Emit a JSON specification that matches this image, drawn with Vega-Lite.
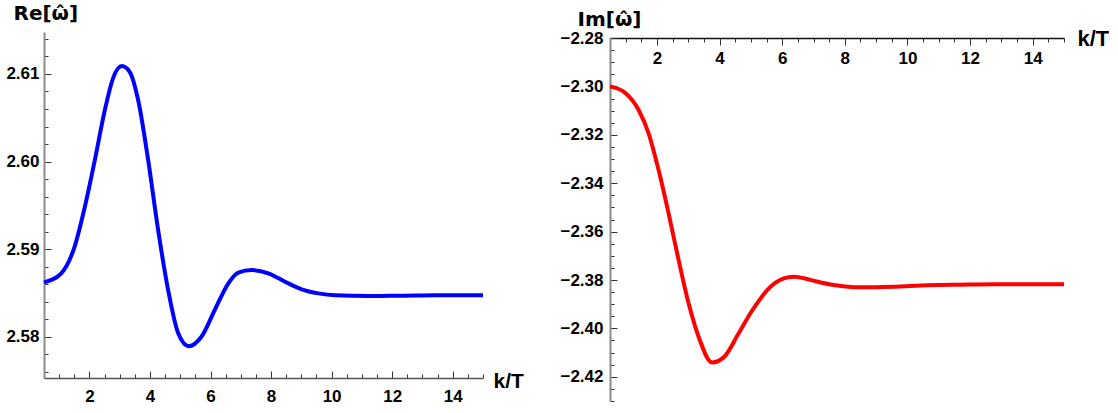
{
  "$schema": "https://vega.github.io/schema/vega-lite/v6.json",
  "autosize": {"type": "pad"},
  "padding": {"left": 5, "top": 3, "right": 0, "bottom": 0},
  "background": "white",
  "config": {
    "view": {"stroke": null},
    "axis": {
      "labelFont": "Liberation Sans",
      "labelFontWeight": "bold",
      "labelFontSize": 17,
      "labelColor": "black",
      "titleFont": "Liberation Sans",
      "titleFontWeight": "bold",
      "titleColor": "black",
      "grid": false,
      "tickColor": "#333333",
      "tickWidth": 1,
      "labelFlush": false,
      "labelOverlap": false
    }
  },
  "datasets": {
    "re": [
      {"k": 0.5, "v": 2.58621},
      {"k": 1.07, "v": 2.58724},
      {"k": 1.51, "v": 2.59027},
      {"k": 1.85, "v": 2.59484},
      {"k": 2.18, "v": 2.60017},
      {"k": 2.51, "v": 2.60588},
      {"k": 2.78, "v": 2.60950},
      {"k": 3.07, "v": 2.61090},
      {"k": 3.33, "v": 2.61025},
      {"k": 3.61, "v": 2.60702},
      {"k": 3.94, "v": 2.60017},
      {"k": 4.27, "v": 2.59218},
      {"k": 4.60, "v": 2.58533},
      {"k": 4.93, "v": 2.58042},
      {"k": 5.28, "v": 2.57892},
      {"k": 5.70, "v": 2.58000},
      {"k": 6.14, "v": 2.58305},
      {"k": 6.59, "v": 2.58610},
      {"k": 6.92, "v": 2.58731},
      {"k": 7.36, "v": 2.58761},
      {"k": 7.91, "v": 2.58724},
      {"k": 8.46, "v": 2.58628},
      {"k": 9.01, "v": 2.58541},
      {"k": 9.56, "v": 2.58495},
      {"k": 10.11, "v": 2.58473},
      {"k": 11.21, "v": 2.58465},
      {"k": 12.31, "v": 2.58468},
      {"k": 13.41, "v": 2.58473},
      {"k": 15.0, "v": 2.58474}
    ],
    "im": [
      {"k": 0.5, "v": -2.30000},
      {"k": 0.99, "v": -2.30273},
      {"k": 1.41, "v": -2.30964},
      {"k": 1.73, "v": -2.31928},
      {"k": 2.05, "v": -2.33447},
      {"k": 2.37, "v": -2.35239},
      {"k": 2.69, "v": -2.37171},
      {"k": 3.01, "v": -2.38963},
      {"k": 3.33, "v": -2.40345},
      {"k": 3.76, "v": -2.41405},
      {"k": 4.13, "v": -2.41197},
      {"k": 4.61, "v": -2.40204},
      {"k": 5.00, "v": -2.39342},
      {"k": 5.30, "v": -2.38780},
      {"k": 5.55, "v": -2.38380},
      {"k": 5.80, "v": -2.38100},
      {"k": 6.05, "v": -2.37930},
      {"k": 6.37, "v": -2.37862},
      {"k": 6.70, "v": -2.37930},
      {"k": 7.10, "v": -2.38060},
      {"k": 7.65, "v": -2.38205},
      {"k": 8.50, "v": -2.38301},
      {"k": 9.56, "v": -2.38276},
      {"k": 10.63, "v": -2.38218},
      {"k": 11.70, "v": -2.38193},
      {"k": 12.76, "v": -2.38176},
      {"k": 13.83, "v": -2.38176},
      {"k": 15.0, "v": -2.38176}
    ]
  },
  "spacing": 127,
  "bounds": "flush",
  "hconcat": [
    {
      "width": 439,
      "height": 346,
      "data": {"name": "re"},
      "mark": {"type": "line", "color": "#0000ff", "strokeWidth": 4, "interpolate": "monotone"},
      "encoding": {
        "x": {
          "field": "k",
          "type": "quantitative",
          "scale": {"domain": [0.5, 15], "nice": false, "zero": false},
          "axis": {
            "orient": "bottom",
            "values": [0.5, 1, 1.5, 2, 2.5, 3, 3.5, 4, 4.5, 5, 5.5, 6, 6.5, 7, 7.5, 8, 8.5, 9, 9.5, 10, 10.5, 11, 11.5, 12, 12.5, 13, 13.5, 14, 14.5, 15],
            "labelExpr": "abs(datum.value/2 - round(datum.value/2)) < 0.001 ? format(datum.value, 'd') : ''",
            "tickSize": {"condition": {"test": "abs(datum.value/2 - round(datum.value/2)) < 0.001", "value": -7}, "value": -4},
            "labelPadding": 17,
            "labelBaseline": "top",
            "domainColor": "#555555",
            "domainWidth": 1.5,
            "title": "k/T",
            "titleX": 449,
            "titleY": 9,
            "titleAngle": 0,
            "titleAlign": "left",
            "titleBaseline": "alphabetic",
            "titleFontSize": 21
          }
        },
        "y": {
          "field": "v",
          "type": "quantitative",
          "scale": {"domain": [2.575285, 2.61479], "nice": false, "zero": false},
          "axis": {
            "orient": "left",
            "values": [2.576, 2.578, 2.58, 2.582, 2.584, 2.586, 2.588, 2.59, 2.592, 2.594, 2.596, 2.598, 2.6, 2.602, 2.604, 2.606, 2.608, 2.61, 2.612, 2.614],
            "labelExpr": "abs(datum.value*100 - round(datum.value*100)) < 0.001 ? format(datum.value, '.2f') : ''",
            "tickSize": {"condition": {"test": "abs(datum.value*100 - round(datum.value*100)) < 0.001", "value": -7}, "value": -4},
            "labelPadding": 12,
            "domainColor": "#8a8a8a",
            "domainWidth": 2,
            "title": "Re[ω̂]",
            "titleFont": "DejaVu Sans",
            "titleX": -31,
            "titleY": -13,
            "titleAngle": 0,
            "titleAlign": "left",
            "titleBaseline": "alphabetic",
            "titleFontSize": 20
          }
        }
      }
    },
    {
      "spacing": 0,
      "bounds": "flush",
      "vconcat": [
        {
          "width": 454,
          "height": 6,
          "data": {"values": []},
          "mark": {"type": "point"},
          "encoding": {}
        },
        {
          "width": 454,
          "height": 363,
          "data": {"name": "im"},
          "mark": {"type": "line", "color": "#ff0000", "strokeWidth": 4, "interpolate": "monotone"},
          "encoding": {
            "x": {
              "field": "k",
              "type": "quantitative",
              "scale": {"domain": [0.5, 15], "nice": false, "zero": false},
              "axis": {
                "orient": "top",
                "values": [0.5, 1, 1.5, 2, 2.5, 3, 3.5, 4, 4.5, 5, 5.5, 6, 6.5, 7, 7.5, 8, 8.5, 9, 9.5, 10, 10.5, 11, 11.5, 12, 12.5, 13, 13.5, 14, 14.5, 15],
                "labelExpr": "abs(datum.value/2 - round(datum.value/2)) < 0.001 ? format(datum.value, 'd') : ''",
                "tickSize": {"condition": {"test": "abs(datum.value/2 - round(datum.value/2)) < 0.001", "value": -7}, "value": -4},
                "labelPadding": -5,
                "labelBaseline": "top",
                "domainColor": "#111111",
                "domainWidth": 1.5,
                "title": "k/T",
                "titleX": 467,
                "titleY": 7,
                "titleAngle": 0,
                "titleAlign": "left",
                "titleBaseline": "alphabetic",
                "titleFontSize": 22
              }
            },
            "y": {
              "field": "v",
              "type": "quantitative",
              "scale": {"domain": [-2.43, -2.28], "nice": false, "zero": false},
              "axis": {
                "orient": "left",
                "values": [-2.43, -2.425, -2.42, -2.415, -2.41, -2.405, -2.4, -2.395, -2.39, -2.385, -2.38, -2.375, -2.37, -2.365, -2.36, -2.355, -2.35, -2.345, -2.34, -2.335, -2.33, -2.325, -2.32, -2.315, -2.31, -2.305, -2.3, -2.295, -2.29, -2.285, -2.28],
                "labelExpr": "abs(datum.value*50 - round(datum.value*50)) < 0.001 ? replace(format(datum.value, '.2f'), '-', '\u2212\u200a') : ''",
                "tickSize": {"condition": {"test": "abs(datum.value*50 - round(datum.value*50)) < 0.001", "value": -7}, "value": -4},
                "labelPadding": 14,
                "domainColor": "#8a8a8a",
                "domainWidth": 2,
                "title": "Im[ω̂]",
                "titleFont": "DejaVu Sans",
                "titleX": -33,
                "titleY": -13,
                "titleAngle": 0,
                "titleAlign": "left",
                "titleBaseline": "alphabetic",
                "titleFontSize": 20
              }
            }
          }
        }
      ]
    }
  ]
}
